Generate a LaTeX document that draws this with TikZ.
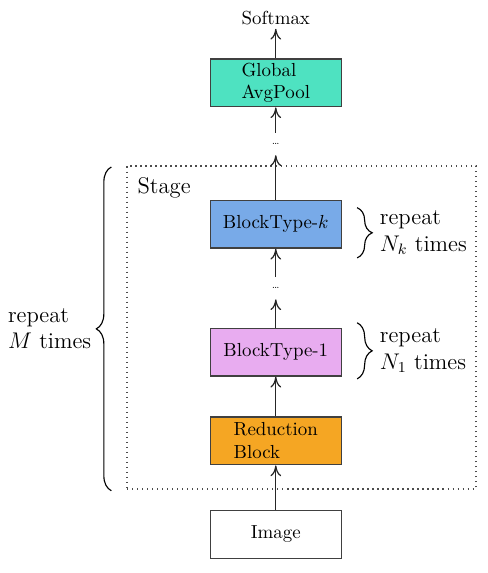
\documentclass[tikz,border=0pt]{standalone}
\usepackage{amsmath}
\usepackage{tikz}
\usetikzlibrary{arrows.meta,decorations.pathreplacing,calc}
\definecolor{poolcol}{RGB}{78,226,193}
\definecolor{btkcol}{RGB}{120,170,232}
\definecolor{bticol}{RGB}{232,172,240}
\definecolor{redcol}{RGB}{245,166,35}

\begin{document}
\begin{tikzpicture}[
  blk/.style={draw=black!75, line width=0.7pt, align=left,
              minimum width=24.4mm, minimum height=8.9mm, inner sep=2pt},
  dotnode/.style={inner sep=0pt, minimum height=4mm, font=\tiny},
  sidelbl/.style={font=\large, align=left, inner sep=1pt},
  rbrace/.style={decorate, decoration={brace, amplitude=2.8mm}, line width=0.6pt},
  flow/.style={->, draw=black!85, line width=0.65pt},
  >={To[length=2mm,width=2mm]}]
  \useasboundingbox (0,0) rectangle (9.077,-10.658);
  \def\ax{5.13}
  % main column
  \node[blk] (img) at (\ax,-9.94) {Image};
  \node[blk, fill=redcol] (red) at (\ax,-8.20) {Reduction\\Block};
  \node[blk, fill=bticol] (bt1) at (\ax,-6.55) {BlockType-1};
  \node[dotnode] (dmid) at (\ax,-5.36) {\ldots};
  \node[blk, fill=btkcol] (btk) at (\ax,-4.17) {BlockType-$k$};
  \node[dotnode] (dtop) at (\ax,-2.68) {\ldots};
  \node[blk, fill=poolcol] (pool) at (\ax,-1.54) {Global\\AvgPool};
  \node[inner sep=2pt] (soft) at (\ax,-0.33) {Softmax};
  % stage frame
  \node[draw=black!70, dotted, line width=0.65pt, minimum width=6.49cm,
        minimum height=6.01cm] (stage) at (5.608,-6.092) {};
  \node[font=\large, anchor=north west, inner sep=0pt] (stagelbl)
        at ($(stage.north west)+(0.2,-0.22)$) {Stage};
  % connectors
  \draw[flow] (img) -- (red);
  \draw[flow] (red) -- (bt1);
  \draw[flow] (bt1) -- (dmid);
  \draw[flow] (dmid) -- (btk);
  \draw[flow] (btk) -- (dtop);
  \draw[flow] (dtop) -- (pool);
  \draw[flow] (pool) -- (soft);
  % repeat braces
  \draw[rbrace] ([xshift=0.28cm,yshift=-0.15cm]btk.north east)
    -- ([xshift=0.28cm,yshift=-0.17cm]btk.south east)
    node[midway, right=3.8mm, sidelbl] (lblk) {repeat\\$N_k$ times};
  \draw[rbrace] ([xshift=0.28cm,yshift=0.09cm]bt1.north east)
    -- ([xshift=0.28cm,yshift=-0.04cm]bt1.south east)
    node[midway, right=3.8mm, sidelbl] (lbl1) {repeat\\$N_1$ times};
  \draw[rbrace] ([xshift=-0.28cm,yshift=-0.02cm]stage.south west)
    -- ([xshift=-0.28cm,yshift=-0.03cm]stage.north west)
    node[midway, left=3.3mm, sidelbl] (lblm) {repeat\\$M$ times};
\end{tikzpicture}
\end{document}
